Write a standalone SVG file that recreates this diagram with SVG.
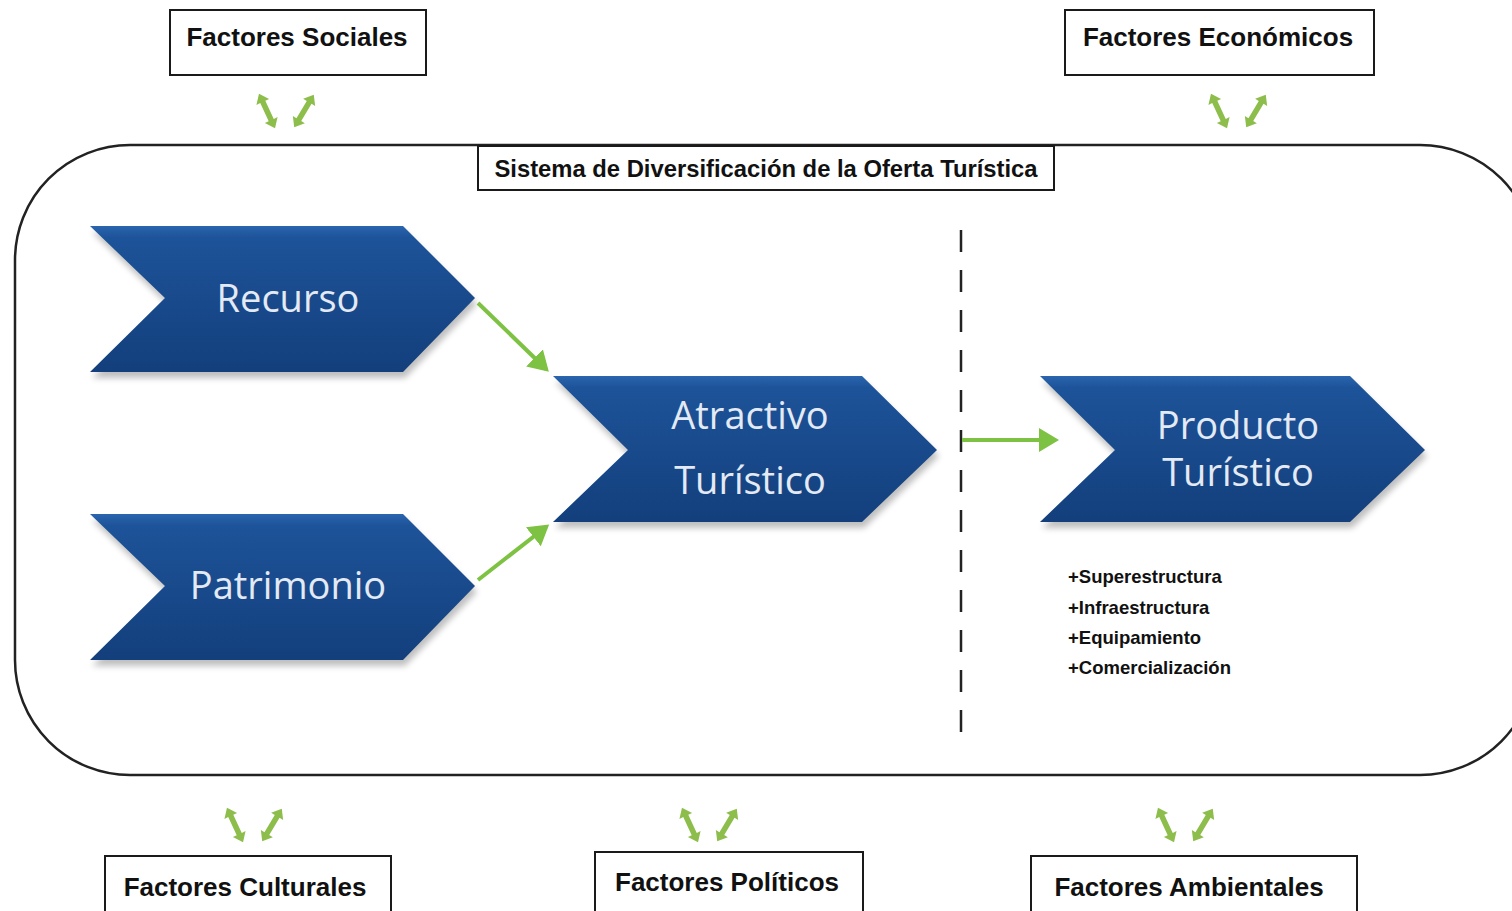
<svg xmlns="http://www.w3.org/2000/svg" xmlns:xlink="http://www.w3.org/1999/xlink" width="1512" height="911" viewBox="0 0 1512 911">
<style>
.box{fill:#fff;stroke:#1a1a1a;stroke-width:2}
.ft{font-family:"Liberation Sans",Arial,sans-serif;font-weight:bold;font-size:26px;fill:#111;text-anchor:middle}
.tt{font-family:"Liberation Sans",Arial,sans-serif;font-weight:bold;font-size:23.8px;fill:#111;text-anchor:middle}
.ct{font-family:"Open Sans","Liberation Sans",sans-serif;font-size:38px;fill:#e3eaf3;text-anchor:middle}
.lt{font-family:"Liberation Sans",Arial,sans-serif;font-weight:bold;font-size:18.5px;fill:#111}
.conn{stroke:#7DC242;stroke-width:4;fill:none}
.chev{fill:url(#blue)}
.sh{fill:#000;opacity:0.25;filter:url(#blur)}
</style>
<defs>
<linearGradient id="blue" x1="0" y1="0" x2="0" y2="1">
<stop offset="0" stop-color="#2A65AE"/>
<stop offset="0.08" stop-color="#1D5399"/>
<stop offset="1" stop-color="#133F7C"/>
</linearGradient>
<filter id="blur" x="-10%" y="-10%" width="120%" height="130%"><feGaussianBlur stdDeviation="3"/></filter>
<marker id="ah" markerWidth="6" markerHeight="6" refX="4" refY="3" orient="auto" markerUnits="strokeWidth">
<path d="M0,0 L5,3 L0,6 z" fill="#7DC242"/>
</marker>
<polygon id="dbl" points="-19,0 -10,-7 -10,-2.8 10,-2.8 10,-7 19,0 10,7 10,2.8 -10,2.8 -10,7" fill="#8DBE4C"/>
<g id="pair">
<use xlink:href="#dbl" transform="translate(-19,0) rotate(65)"/>
<use xlink:href="#dbl" transform="translate(18,0) rotate(-59)"/>
</g>
</defs>
<rect width="1512" height="911" fill="#fff"/>

<g id="system">
<rect x="15" y="145" width="1520" height="630" rx="115" ry="115" fill="none" stroke="#222" stroke-width="2.5"/>
</g>

<g id="title">
<rect class="box" x="478" y="146" width="576" height="44"/>
<text class="tt" x="766" y="177">Sistema de Diversificación de la Oferta Turística</text>
</g>

<g id="factores-sociales">
<rect class="box" x="170" y="10" width="256" height="65"/>
<text class="ft" x="297" y="46">Factores Sociales</text>
</g>
<g id="factores-economicos">
<rect class="box" x="1065" y="10" width="309" height="65"/>
<text class="ft" x="1218" y="46">Factores Económicos</text>
</g>
<g id="factores-culturales">
<rect class="box" x="105" y="856" width="286" height="70"/>
<text class="ft" x="245" y="896">Factores Culturales</text>
</g>
<g id="factores-politicos">
<rect class="box" x="595" y="852" width="268" height="70"/>
<text class="ft" x="727" y="891">Factores Políticos</text>
</g>
<g id="factores-ambientales">
<rect class="box" x="1031" y="856" width="326" height="70"/>
<text class="ft" x="1189" y="896">Factores Ambientales</text>
</g>

<g id="recurso">
<polygon class="sh" points="92,232 405,232 477,304 405,378 92,378 167,304"/>
<polygon class="chev" points="90,226 403,226 475,298 403,372 90,372 165,298"/>
<text class="ct" x="288" y="312">Recurso</text>
</g>
<g id="patrimonio">
<polygon class="sh" points="92,520 405,520 477,592 405,666 92,666 167,592"/>
<polygon class="chev" points="90,514 403,514 475,586 403,660 90,660 165,586"/>
<text class="ct" x="288" y="599">Patrimonio</text>
</g>
<g id="atractivo">
<polygon class="sh" points="555,382 864,382 939,456 864,528 555,528 630,456"/>
<polygon class="chev" points="553,376 862,376 937,450 862,522 553,522 628,450"/>
<text class="ct" x="750" y="429">Atractivo</text>
<text class="ct" x="750" y="494">Turístico</text>
</g>
<g id="producto">
<polygon class="sh" points="1042,382 1352,382 1427,456 1352,528 1042,528 1117,456"/>
<polygon class="chev" points="1040,376 1350,376 1425,450 1350,522 1040,522 1115,450"/>
<text class="ct" x="1238" y="439">Producto</text>
<text class="ct" x="1238" y="486">Turístico</text>
</g>

<g id="lista">
<text class="lt" x="1068" y="583">+Superestructura</text>
<text class="lt" x="1068" y="614">+Infraestructura</text>
<text class="lt" x="1068" y="644">+Equipamiento</text>
<text class="lt" x="1068" y="674">+Comercialización</text>
</g>

<g id="connectors">
<line x1="961" y1="230" x2="961" y2="740" stroke="#222" stroke-width="2.5" stroke-dasharray="22,18"/>
<line class="conn" x1="478" y1="303" x2="546" y2="369" marker-end="url(#ah)"/>
<line class="conn" x1="478" y1="580" x2="546" y2="527" marker-end="url(#ah)"/>
<line class="conn" x1="962" y1="440" x2="1055" y2="440" marker-end="url(#ah)"/>
<use xlink:href="#pair" transform="translate(286,111)"/>
<use xlink:href="#pair" transform="translate(1238,111)"/>
<use xlink:href="#pair" transform="translate(254,825)"/>
<use xlink:href="#pair" transform="translate(709,825)"/>
<use xlink:href="#pair" transform="translate(1185,825)"/>
</g>
</svg>
